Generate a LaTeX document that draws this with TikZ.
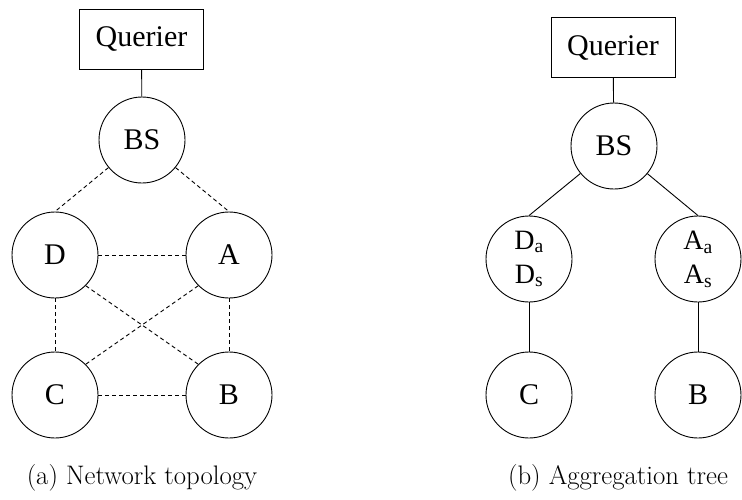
\documentclass[tikz,border=0pt]{standalone}
\usepackage{fontspec}
\newfontfamily\nodefont{Liberation Serif}
\begin{document}
\begin{tikzpicture}[x=1pt,y=-1pt,
  every node/.style={inner sep=0pt},
  nd/.style={circle, draw, line width=0.9pt, minimum size=86pt,
             font=\nodefont\fontsize{30}{34}\selectfont},
  qbox/.style={rectangle, draw, line width=0.9pt, minimum width=124pt,
               minimum height=60pt, font=\nodefont\fontsize{30}{34}\selectfont},
  pair/.style={nd, align=center, font=\nodefont\fontsize{28}{34}\selectfont},
  link/.style={line width=0.9pt, dash pattern=on 4pt off 3pt},
  solidlink/.style={line width=0.9pt},
  captext/.style={font=\fontsize{26.8}{30}\selectfont}]
\useasboundingbox (0,0) rectangle (742,499);

% (a) network topology
\node[qbox] (qa) at (141.5,39) {Querier};
\node[nd] (bsa) at (142,140) {BS};
\node[nd] (da) at (55,255) {D};
\node[nd] (aa) at (229,255) {A};
\node[nd] (ca) at (55,395) {C};
\node[nd] (ba) at (229,395) {B};
\draw[solidlink] (qa) -- (bsa);
\draw[link] (bsa) -- (da.north);
\draw[link] (bsa) -- (aa.north);
\draw[link] (da) -- (aa);
\draw[link] (da) -- (ca);
\draw[link] (aa) -- (ba);
\draw[link] (ca) -- (ba);
\draw[link] (da.south east) -- (ba.north west);
\draw[link] (aa.south west) -- (ca.north east);
\node[captext] (capa) at (142,478) {(a) Network topology};

% (b) aggregation tree
\node[qbox] (qb) at (613,47.5) {Querier};
\node[nd] (bsb) at (614,146) {BS};
\node[pair] (db) at (529,259) {D\textsubscript{a}\\D\textsubscript{s}};
\node[pair] (ab) at (698,259) {A\textsubscript{a}\\A\textsubscript{s}};
\node[nd] (cb) at (529,395) {C};
\node[nd] (bb) at (698,395) {B};
\draw[solidlink] (qb) -- (bsb);
\draw[solidlink] (bsb) -- (db.north);
\draw[solidlink] (bsb) -- (ab.north);
\draw[solidlink] (db) -- (cb);
\draw[solidlink] (ab) -- (bb);
\node[captext] (capb) at (618,478) {(b) Aggregation tree};
\end{tikzpicture}
\end{document}
